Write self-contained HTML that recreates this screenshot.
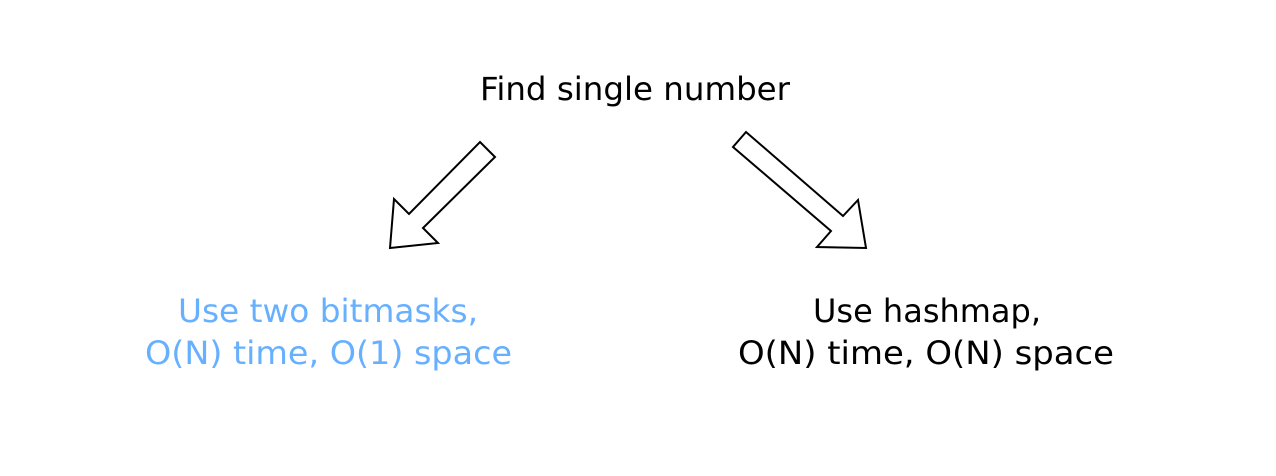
<!DOCTYPE html>
<html><head><meta charset="utf-8"><style>
html,body{margin:0;padding:0;background:#fff;}
svg{display:block;}
text{font-family:"DejaVu Sans","Liberation Sans",sans-serif;font-size:32px;}
</style></head><body>
<svg width="1276" height="476" viewBox="0 0 1276 476">
<text x="480" y="100" textLength="310" lengthAdjust="spacingAndGlyphs" fill="#000">Find single number</text>
<polygon points="480,142 495,157 423,228 438,243 390,248 394,199 409,214" fill="#fff" stroke="#000" stroke-width="2"/>
<polygon points="746,132 733,147 831,231 817,247 866,248 858,200 843,216" fill="#fff" stroke="#000" stroke-width="2"/>
<g fill="#66b0ff">
<text x="178" y="322" textLength="300" lengthAdjust="spacingAndGlyphs">Use two bitmasks,</text>
<text x="145" y="364" textLength="367" lengthAdjust="spacingAndGlyphs">O(N) time, O(1) space</text>
</g>
<g fill="#000">
<text x="813" y="322" textLength="228" lengthAdjust="spacingAndGlyphs">Use hashmap,</text>
<text x="738" y="364" textLength="376" lengthAdjust="spacingAndGlyphs">O(N) time, O(N) space</text>
</g>
</svg>
</body></html>
